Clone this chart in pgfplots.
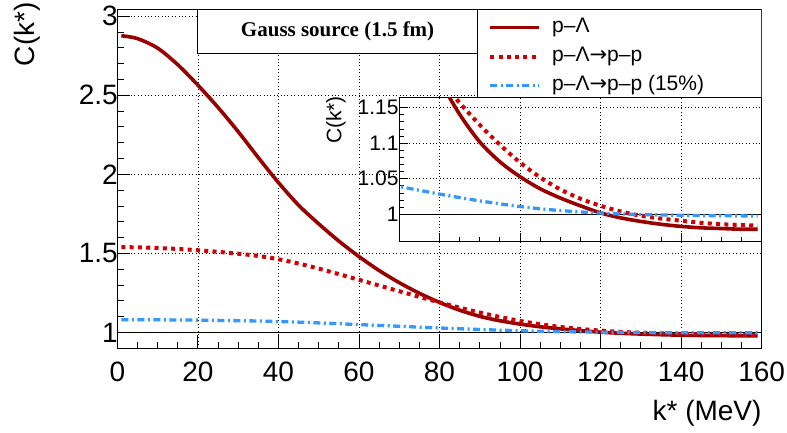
\documentclass[border=0pt]{standalone}
\usepackage{fontspec}
\setmainfont{Liberation Sans}
\newfontfamily\titlefont{Liberation Serif}
\newfontfamily\arrowfont{DejaVu Sans}
\usepackage{pgfplots}
\usepackage{pgfplotstable}
\pgfplotsset{compat=1.18}
\definecolor{solidred}{RGB}{153,0,0}
\definecolor{dotred}{RGB}{210,0,0}
\definecolor{azure}{RGB}{51,153,255}

\pgfplotstableread{
k S D B
1 2.876 1.540 1.0810
5 2.858 1.538 1.0807
10 2.798 1.534 1.0801
15 2.693 1.528 1.0792
20 2.564 1.520 1.0780
25 2.423 1.510 1.0765
30 2.270 1.498 1.0747
35 2.106 1.484 1.0726
40 1.948 1.463 1.0695
45 1.805 1.436 1.0654
50 1.687 1.404 1.0606
55 1.578 1.369 1.0554
60 1.480 1.333 1.0500
65 1.392 1.297 1.0446
70 1.315 1.261 1.0392
75 1.248 1.225 1.0338
80 1.190 1.190 1.0285
85 1.141 1.157 1.0236
90 1.102 1.126 1.0189
95 1.074 1.098 1.0147
100 1.053 1.073 1.0110
105 1.036 1.052 1.0078
110 1.023 1.035 1.0053
115 1.012 1.022 1.0033
120 1.002 1.012 1.0018
125 0.995 1.004 1.0006
130 0.990 0.998 0.9997
135 0.986 0.994 0.9991
140 0.983 0.991 0.9987
145 0.981 0.988 0.9982
150 0.980 0.986 0.9979
155 0.979 0.985 0.9978
159 0.979 0.984 0.9976
}\curves

\pgfplotsset{
  solidstyle/.style={solidred, line width=3.6pt},
  dotstyle/.style={dotred, line width=4pt, dash pattern=on 4pt off 4.3pt},
  dashdotstyle/.style={azure, line width=3.3pt, dash pattern=on 7pt off 3.5pt on 2pt off 3.5pt},
  rootgrid/.style={grid style={black, line width=0.6pt, dash pattern=on 0.8pt off 2.6pt}},
}

\begin{document}
\begin{tikzpicture}
\useasboundingbox (0pt,0pt) rectangle (787pt,432pt);
\begin{axis}[
  at={(117.3pt,83.7pt)}, anchor=south west,
  scale only axis, width=644.4pt, height=339.3pt,
  xmin=0, xmax=160, ymin=0.9, ymax=3.045,
  xtick={0,20,...,160}, ytick={1,1.5,2,2.5,3},
  minor x tick num=3, minor y tick num=4,
  tick pos=left, tick align=inside,
  major tick length=13pt, minor tick length=6.5pt,
  grid=major, rootgrid,
  axis line style={black, line width=1pt},
  tick style={black, line width=0.8pt},
  /pgf/number format/assume math mode=true,
  ticklabel style={font=\fontsize{28}{30}\selectfont},
  xticklabel style={yshift=-10pt},
  yticklabel style={xshift=4pt},
  xlabel={k* (MeV)}, ylabel={C(k*)},
  label style={font=\fontsize{28}{30}\selectfont},
  xlabel style={at={(axis description cs:1,-0.19)}, anchor=east, inner sep=0pt},
  ylabel style={at={(axis description cs:-0.14,1.02)}, anchor=east, inner sep=0pt},
  legend cell align=left,
  legend image code/.code={\draw[#1] (0pt,0pt) -- (49pt,0pt);},
  legend style={draw=none, fill=none, at={(axis description cs:0.5753,0.975)}, anchor=north west,
    font=\fontsize{21}{23}\selectfont, inner sep=0pt, row sep=9pt, column sep=11pt,
    nodes={inner sep=0pt, text height=15pt, text depth=5pt}},
]
\addplot[black, line width=1.3pt, forget plot] coordinates {(0,1) (160,1)};
\addplot[solidstyle, smooth] table[x=k, y=S] {\curves};
\addplot[dotstyle, smooth] table[x=k, y=D] {\curves};
\addplot[dashdotstyle, smooth] table[x=k, y=B] {\curves};
\legend{p–Λ, p–Λ{\arrowfont →}p–p, p–Λ{\arrowfont →}p–p (15\%)}
\draw[black, line width=1pt, fill=white] (axis description cs:0.1241,1) rectangle (axis description cs:0.5597,0.8694);
\node[font=\titlefont\bfseries\fontsize{21}{23}\selectfont] at (axis description cs:0.3419,0.9347) {Gauss source (1.5 fm)};
\draw[black, line width=1pt, fill=white] (axis description cs:0.5597,1) rectangle (axis description cs:1,0.7398);
\end{axis}
\begin{axis}[
  at={(399pt,190.3pt)}, anchor=south west,
  scale only axis, width=362.7pt, height=144.4pt,
  xmin=70, xmax=160, ymin=0.9615, ymax=1.1645,
  xtick={80,100,...,160}, xticklabels={},
  ytick={1,1.05,1.1,1.15},
  minor x tick num=3, minor y tick num=4,
  tick pos=left, tick align=inside,
  major tick length=9pt, minor tick length=4.5pt,
  grid=major, rootgrid,
  axis background/.style={fill=white},
  axis line style={black, line width=1pt},
  tick style={black, line width=0.8pt},
  /pgf/number format/assume math mode=true,
  ticklabel style={font=\fontsize{21}{23}\selectfont},
  yticklabel style={xshift=3pt},
  ylabel={C(k*)},
  label style={font=\fontsize{21}{23}\selectfont},
  ylabel style={at={(axis description cs:-0.174,1.01)}, anchor=east, inner sep=0pt},
]
\addplot[black, line width=1.3pt] coordinates {(70,1) (160,1)};
\addplot[solidstyle, smooth] table[x=k, y=S] {\curves};
\addplot[dotstyle, smooth] table[x=k, y=D] {\curves};
\addplot[dashdotstyle, smooth] table[x=k, y=B] {\curves};
\end{axis}
\end{tikzpicture}
\end{document}
